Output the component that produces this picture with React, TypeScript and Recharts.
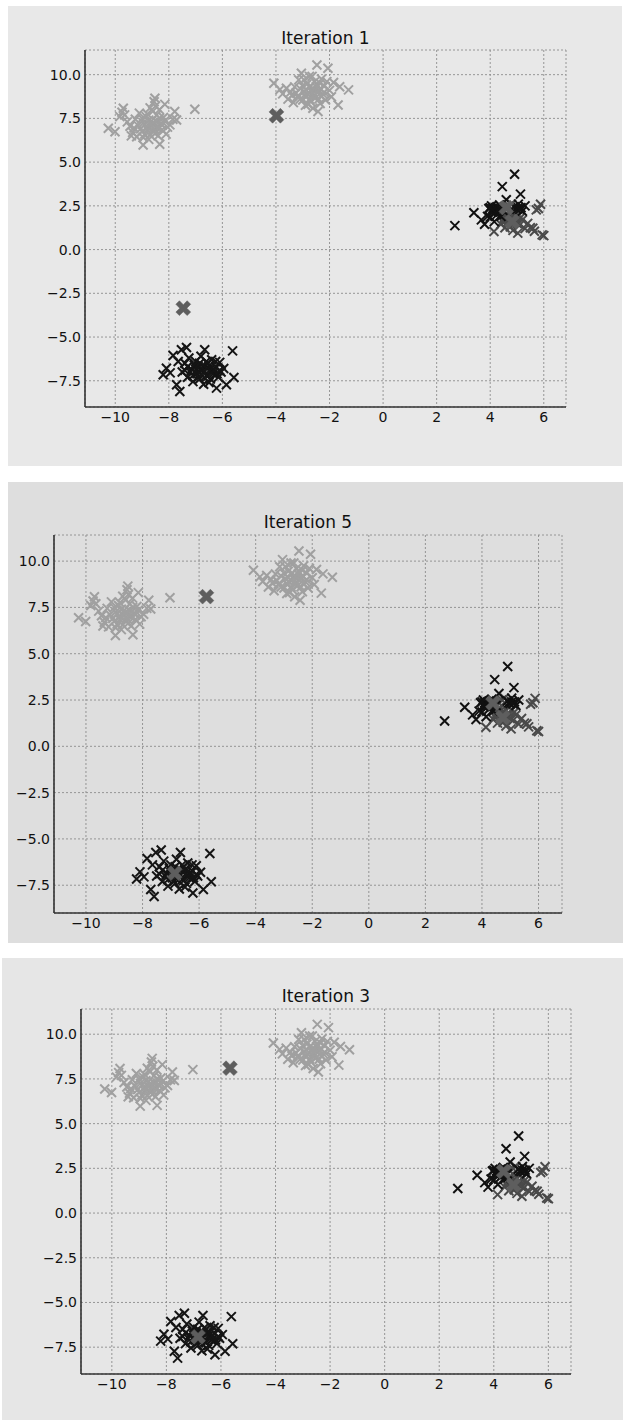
import { ScatterChart, Scatter, XAxis, YAxis, CartesianGrid } from "recharts"

// axis ticks shared by all three panels
const xTicks = [-10, -8, -6, -4, -2, 0, 2, 4, 6]
const yTicks = [-7.5, -5, -2.5, 0, 2.5, 5, 7.5, 10]
const xDomain: [number, number] = [-11.13, 6.83]
const yDomain: [number, number] = [-9.0, 11.41]

const titles = ["Iteration 1", "Iteration 5", "Iteration 3"]

// same blobs in every panel
const clusterUpperLeft: [number, number][] = [
  [-10.26, 6.94], [-10.01, 6.74], [-9.83, 7.6], [-9.7, 8.08], [-9.75, 7.85], [-9.55, 7.3],
  [-9.45, 7.05], [-9.35, 6.7], [-9.25, 7.45], [-9.2, 6.45], [-9.1, 7.8], [-9.05, 6.9],
  [-8.96, 5.98], [-8.95, 7.25], [-8.9, 6.6], [-8.85, 7.6], [-8.8, 7.0], [-8.75, 6.3],
  [-8.7, 8.1], [-8.65, 7.35], [-8.6, 6.75], [-8.55, 8.45], [-8.52, 8.65], [-8.5, 7.1],
  [-8.45, 7.7], [-8.4, 6.5], [-8.35, 8.0], [-8.34, 6.02], [-8.3, 7.2], [-8.25, 6.85],
  [-8.2, 7.55], [-8.15, 8.3], [-8.1, 6.6], [-8.05, 7.0], [-7.96, 7.13], [-7.85, 7.45],
  [-7.78, 7.89], [-7.71, 7.41], [-9.65, 7.7], [-9.0, 7.5], [-8.6, 7.9], [-7.03, 8.02],
  [-9.15, 7.1], [-9.0, 6.75], [-8.9, 7.15], [-8.8, 6.85], [-8.75, 7.4], [-8.7, 6.55],
  [-8.65, 7.05], [-8.55, 6.9], [-8.45, 7.3], [-8.4, 6.95], [-8.35, 7.5], [-8.6, 7.25],
  [-9.3, 6.95], [-8.95, 6.4], [-8.5, 6.65], [-8.25, 7.1], [-8.8, 7.75], [-8.5, 8.2],
  [-9.4, 6.5], [-8.15, 7.35],
]

const clusterUpperMid: [number, number][] = [
  [-4.08, 9.51], [-3.61, 9.22], [-3.75, 8.9], [-3.55, 8.6], [-3.45, 9.0], [-3.35, 8.4],
  [-3.3, 9.3], [-3.2, 8.75], [-3.15, 9.7], [-3.05, 10.08], [-3.0, 8.55], [-2.95, 9.05],
  [-2.9, 8.25], [-2.85, 9.45], [-2.8, 8.85], [-2.75, 9.9], [-2.7, 8.45], [-2.65, 9.2],
  [-2.62, 8.08], [-2.55, 9.6], [-2.5, 8.7], [-2.47, 10.55], [-2.43, 7.89], [-2.4, 9.05],
  [-2.35, 8.35], [-2.3, 9.75], [-2.25, 8.9], [-2.2, 9.35], [-2.15, 8.55], [-2.06, 10.37],
  [-2.0, 9.1], [-1.93, 8.74], [-1.85, 9.55], [-1.68, 8.27], [-1.62, 9.31], [-1.29, 9.13],
  [-3.85, 9.15], [-2.6, 8.95], [-3.1, 9.2], [-2.45, 9.4],
  [-3.25, 8.95], [-3.1, 8.6], [-3.0, 9.35], [-2.9, 8.8], [-2.85, 9.1], [-2.75, 8.6],
  [-2.7, 9.35], [-2.6, 8.75], [-2.55, 9.1], [-2.5, 9.3], [-2.4, 8.6], [-2.35, 9.2],
  [-2.3, 8.75], [-2.2, 9.0], [-2.1, 9.6], [-3.4, 8.8], [-2.95, 9.7], [-2.65, 9.9],
  [-2.35, 9.5], [-2.8, 8.3],
]

const clusterLowerLeft: [number, number][] = [
  [-8.21, -7.16], [-8.09, -6.78], [-7.84, -6.06], [-7.71, -7.73], [-7.59, -8.11], [-7.53, -5.73],
  [-7.34, -5.6], [-7.5, -7.0], [-7.4, -6.5], [-7.3, -7.3], [-7.25, -6.2], [-7.15, -6.85],
  [-7.1, -7.55], [-7.0, -6.4], [-6.95, -7.1], [-6.9, -6.7], [-6.85, -7.4], [-6.8, -6.1],
  [-6.75, -6.9], [-6.66, -5.73], [-6.6, -7.2], [-6.55, -6.5], [-6.5, -7.6], [-6.45, -6.85],
  [-6.4, -6.3], [-6.35, -7.1], [-6.25, -6.7], [-6.22, -7.92], [-6.15, -7.3], [-6.1, -6.45],
  [-6.05, -7.0], [-5.95, -6.8], [-5.85, -7.73], [-5.62, -5.79], [-5.57, -7.31], [-7.95, -7.05],
  [-7.65, -6.4], [-6.7, -7.7],
  [-7.3, -6.7], [-7.2, -7.0], [-7.05, -6.6], [-6.95, -6.85], [-6.85, -6.5], [-6.8, -7.15],
  [-6.7, -6.65], [-6.65, -6.95], [-6.55, -7.25], [-6.5, -6.65], [-6.4, -7.0], [-6.3, -6.85],
  [-6.2, -7.1], [-7.1, -7.2], [-6.9, -7.3], [-6.6, -6.4], [-6.45, -7.4], [-7.4, -6.9],
  [-6.1, -6.9], [-6.25, -6.4],
]

const clusterRightBlack: [number, number][] = [
  [2.68, 1.37], [3.39, 2.11], [3.67, 1.7], [3.79, 1.45], [3.95, 2.35], [4.0, 1.85],
  [4.05, 2.5], [4.1, 2.15], [4.15, 1.6], [4.2, 2.4], [4.25, 2.0], [4.3, 2.3],
  [4.35, 2.55], [4.45, 3.6], [4.4, 1.9], [4.5, 2.2], [4.6, 2.85], [4.91, 4.31],
  [4.9, 2.45], [5.0, 2.3], [5.05, 2.6], [5.13, 3.17], [5.15, 2.4], [5.2, 2.2], [5.3, 2.5],
  [4.1, 2.35], [4.15, 2.25], [4.2, 2.15], [4.25, 2.45], [4.3, 2.2], [4.35, 2.35],
  [4.05, 2.2], [4.95, 2.35], [5.05, 2.4], [5.1, 2.3], [4.0, 2.4], [3.9, 1.9],
]

const clusterRightGray: [number, number][] = [
  [4.14, 1.03], [4.4, 1.45], [4.5, 1.75], [4.55, 1.25], [4.6, 2.05], [4.65, 1.55],
  [4.7, 2.5], [4.75, 1.3], [4.8, 1.85], [4.85, 1.1], [4.9, 1.6], [5.03, 0.94],
  [5.05, 1.95], [5.1, 1.4], [5.2, 1.7], [5.3, 1.2], [5.4, 1.5], [5.5, 1.25],
  [5.59, 1.22], [5.65, 1.05], [5.72, 2.27], [5.88, 2.59], [5.8, 2.35], [5.94, 0.84], [6.0, 0.8],
  [4.55, 1.85], [4.6, 1.7], [4.65, 1.9], [4.7, 1.75], [4.75, 1.6], [4.8, 1.45],
  [4.85, 1.7], [4.95, 1.8], [5.0, 1.5], [4.7, 2.2], [4.55, 2.4], [4.8, 2.6],
  [5.15, 1.85], [4.45, 1.6],
]

const centroidsIter1: [number, number][] = [[-3.98, 7.65], [-7.46, -3.35], [4.6, 2.4], [4.82, 1.6]]
const centroidsIter5: [number, number][] = [[-5.74, 8.08], [-6.86, -6.85], [4.39, 2.34], [4.74, 1.55]]
const centroidsIter3: [number, number][] = [[-5.67, 8.1], [-6.84, -6.92], [4.36, 2.33], [4.72, 1.57]]

const toPts = (arr: [number, number][]) => arr.map(([x, y]) => ({ x, y }))

const FONT = '"DejaVu Sans", sans-serif'
const Y_AXIS_W = 40
const X_AXIS_H = 25

const panels = [
  { left: 8, top: 6, width: 614, height: 460, bg: "#e8e8e8", margin: { top: 44, right: 56, bottom: 34, left: 37 }, titleY: 32, centroids: centroidsIter1 },
  { left: 8, top: 482, width: 615, height: 461, bg: "#dedede", margin: { top: 53, right: 61, bottom: 5, left: 6 }, titleY: 40, centroids: centroidsIter5 },
  { left: 2, top: 958, width: 621, height: 462, bg: "#e6e6e6", margin: { top: 51, right: 52, bottom: 21, left: 39 }, titleY: 38, centroids: centroidsIter3 },
]

const minus = (s: string) => s.replace("-", "\u2212")

function smallX(color: string) {
  return (props: any) => {
    const { cx, cy } = props
    const h = 4.5
    return (
      <path
        d={`M${cx - h},${cy - h}L${cx + h},${cy + h}M${cx - h},${cy + h}L${cx + h},${cy - h}`}
        stroke={color}
        strokeWidth={2}
        fill="none"
      />
    )
  }
}

function bigX(color: string) {
  return (props: any) => {
    const { cx, cy } = props
    const s = 8
    const w = 2.5
    const plus = [
      [w, s], [-w, s], [-w, w], [-s, w], [-s, -w], [-w, -w],
      [-w, -s], [w, -s], [w, -w], [s, -w], [s, w], [w, w],
    ]
    const c = Math.SQRT1_2
    const pts = plus
      .map(([px, py]) => `${cx + (px - py) * c},${cy + (px + py) * c}`)
      .join(" ")
    return <polygon points={pts} fill={color} stroke={color} strokeWidth={0.5} />
  }
}

function Panel({ idx }: { idx: number }) {
  const p = panels[idx]
  const plotLeft = p.margin.left + Y_AXIS_W
  const plotW = p.width - plotLeft - p.margin.right
  return (
    <div style={{ position: "absolute", left: p.left, top: p.top, width: p.width, height: p.height, background: p.bg }}>
      <div
        style={{
          position: "absolute",
          left: plotLeft,
          width: plotW,
          top: p.titleY - 11,
          height: 22,
          lineHeight: "22px",
          textAlign: "center",
          fontFamily: FONT,
          fontSize: 17,
          color: "#111",
        }}
      >
        {titles[idx]}
      </div>
      <ScatterChart width={p.width} height={p.height} margin={p.margin}>
        <CartesianGrid stroke="#8c8c8c" strokeDasharray="2 2" strokeWidth={0.9} />
        <XAxis
          type="number"
          dataKey="x"
          domain={xDomain}
          ticks={xTicks}
          allowDataOverflow
          height={X_AXIS_H}
          tickLine={false}
          tickSize={3}
          tickMargin={2}
          axisLine={{ stroke: "#333", strokeWidth: 1.6 }}
          tick={{ fill: "#111", fontSize: 14, fontFamily: FONT }}
          tickFormatter={(v: number) => minus(String(v))}
        />
        <YAxis
          type="number"
          dataKey="y"
          domain={yDomain}
          ticks={yTicks}
          allowDataOverflow
          width={Y_AXIS_W}
          tickLine={false}
          tickSize={2}
          tickMargin={2}
          axisLine={{ stroke: "#333", strokeWidth: 1.6 }}
          tick={{ fill: "#111", fontSize: 14, fontFamily: FONT }}
          tickFormatter={(v: number) => minus(v.toFixed(1))}
        />
        <Scatter data={toPts(clusterUpperLeft)} shape={smallX("#a0a0a0")} isAnimationActive={false} />
        <Scatter data={toPts(clusterUpperMid)} shape={smallX("#a0a0a0")} isAnimationActive={false} />
        <Scatter data={toPts(clusterLowerLeft)} shape={smallX("#151515")} isAnimationActive={false} />
        <Scatter data={toPts(clusterRightGray)} shape={smallX("#4a4a4a")} isAnimationActive={false} />
        <Scatter data={toPts(clusterRightBlack)} shape={smallX("#111111")} isAnimationActive={false} />
        <Scatter data={toPts(p.centroids)} shape={bigX("#5e5e5e")} isAnimationActive={false} />
      </ScatterChart>
    </div>
  )
}

export default function App() {
  return (
    <div style={{ position: "absolute", left: 0, top: 0, width: 623, height: 1421, background: "#fff" }}>
      <Panel idx={0} />
      <Panel idx={1} />
      <Panel idx={2} />
    </div>
  )
}
